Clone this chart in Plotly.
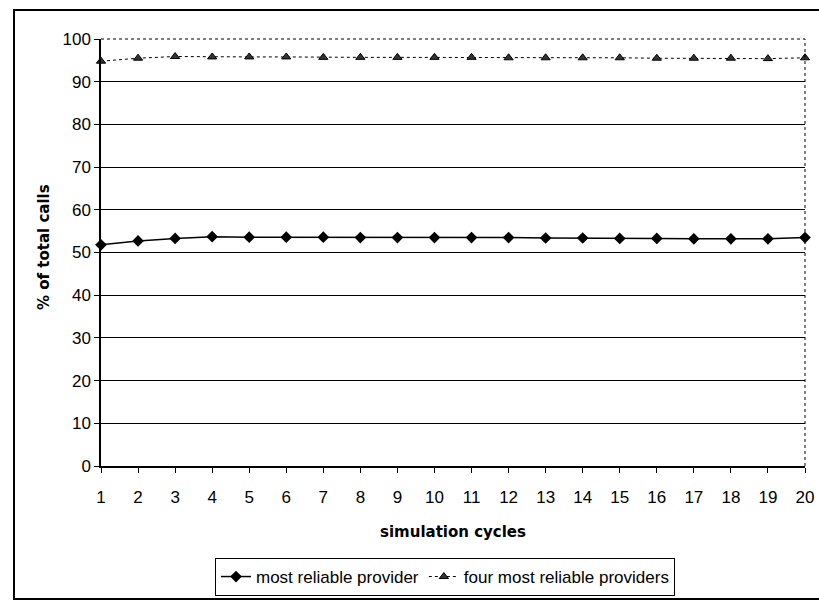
import plotly.graph_objects as go

cycles = list(range(1, 21))
most_reliable = [51.8, 52.7, 53.3, 53.7, 53.6, 53.6, 53.6, 53.5, 53.5, 53.5,
                 53.5, 53.5, 53.4, 53.4, 53.3, 53.3, 53.2, 53.2, 53.2, 53.5]
four_most = [94.8, 95.5, 95.9, 95.8, 95.8, 95.8, 95.7, 95.7, 95.7, 95.7,
             95.7, 95.6, 95.6, 95.6, 95.6, 95.5, 95.5, 95.5, 95.4, 95.6]
y_ticks = list(range(0, 101, 10))

L, R, T, B = 101, 805, 39, 466
W, H = 819, 602
pw, ph = R - L, B - T

def px(x):
    return (x - L) / pw

def py(y):
    return (B - y) / ph

tick_font = dict(family="Liberation Sans Narrow, Liberation Sans, Arial", size=17, color="black")

fig = go.Figure()
fig.add_trace(go.Scatter(
    x=cycles, y=most_reliable, name="most reliable provider",
    mode="lines+markers", line=dict(color="black", width=1.5),
    marker=dict(symbol="diamond", size=9, color="black"), cliponaxis=False))
fig.add_trace(go.Scatter(
    x=cycles, y=four_most, name="four most reliable providers",
    mode="lines+markers", line=dict(color="black", width=1, dash="dot"),
    marker=dict(symbol="triangle-up", size=8, color="#333333",
                line=dict(color="black", width=1)), cliponaxis=False))

fig.update_layout(
    width=W, height=H,
    margin=dict(l=L, r=W - R, t=T, b=H - B, autoexpand=False),
    paper_bgcolor="white", plot_bgcolor="white",
    showlegend=True,
    legend=dict(orientation="h", x=px(445), xanchor="center", y=py(558), yanchor="top",
                bordercolor="black", borderwidth=1, bgcolor="white",
                font=dict(family="Liberation Sans Narrow, Liberation Sans, Arial", size=17, color="black"),
                itemwidth=30, tracegroupgap=0),
    xaxis=dict(range=[1, 20], tickmode="array", tickvals=cycles,
               ticktext=[str(c) for c in cycles], showgrid=False, zeroline=False,
               showline=True, linecolor="black", linewidth=1.5,
               ticks="outside", ticklen=5, tickcolor="black", tickfont=tick_font,
               ticklabelstandoff=10, automargin=False),
    yaxis=dict(range=[0, 100], tickmode="array", tickvals=y_ticks,
               showgrid=True, gridcolor="black", gridwidth=1, zeroline=False,
               showline=True, linecolor="black", linewidth=1.5,
               ticks="outside", ticklen=5, tickcolor="black", tickfont=tick_font,
               automargin=False),
    annotations=[
        dict(text="<b>simulation cycles</b>", x=px(453), y=py(532), xref="paper", yref="paper",
             xanchor="center", yanchor="middle",
             showarrow=False, font=dict(family="DejaVu Sans", size=15, color="black")),
        dict(text="<b>% of total calls</b>", x=px(44), y=py(247), xref="paper", yref="paper",
             xanchor="center", yanchor="middle",
             showarrow=False, textangle=-90, font=dict(family="DejaVu Sans", size=15, color="black")),
    ],
    shapes=[
        dict(type="line", xref="paper", yref="paper", x0=0, x1=1, y0=1, y1=1,
             line=dict(color="black", width=1, dash="dot")),
        dict(type="line", xref="paper", yref="paper", x0=1, x1=1, y0=0, y1=1,
             line=dict(color="black", width=1, dash="dot")),
        dict(type="rect", xref="paper", yref="paper", x0=px(14), x1=px(830), y0=py(599), y1=py(10),
             line=dict(color="black", width=2), layer="below"),
    ],
)

fig.write_html("out.html")
